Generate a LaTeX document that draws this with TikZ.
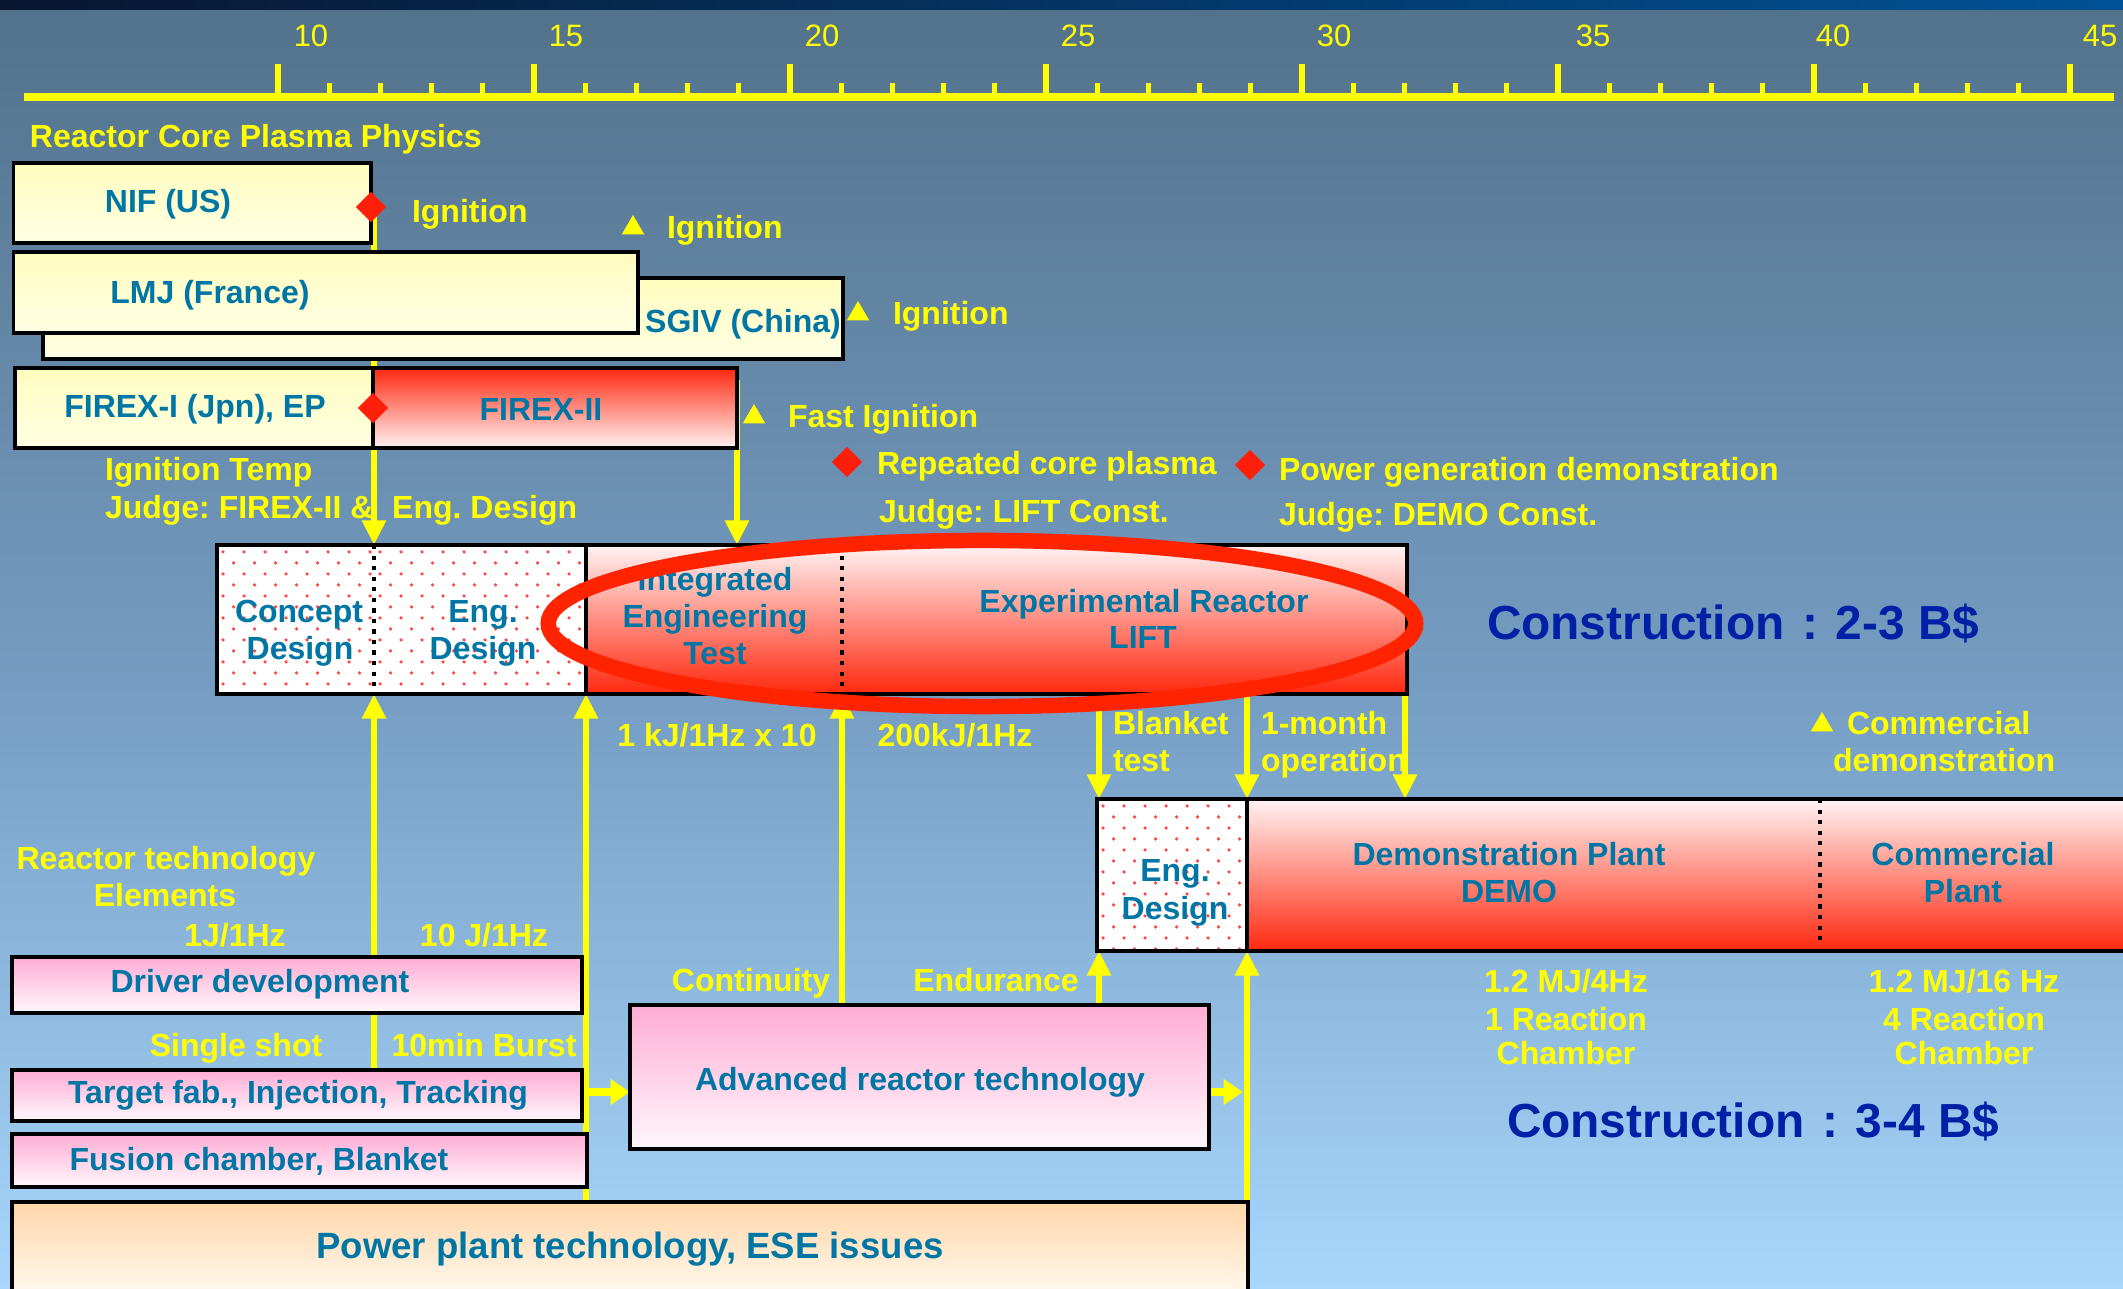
\documentclass[tikz,border=0pt]{standalone}
\usepackage{fontspec}
\setmainfont{Liberation Sans}
\usetikzlibrary{arrows.meta,fit,calc,shapes.geometric}
\pgfdeclarelayer{bg}
\pgfdeclarelayer{lines}
\pgfsetlayers{bg,lines,main}
\frenchspacing

\definecolor{bgtop}{RGB}{82,113,138}
\definecolor{bgmid}{RGB}{118,158,196}
\definecolor{bgbot}{RGB}{168,214,252}
\definecolor{yel}{RGB}{255,255,0}
\definecolor{tblue}{RGB}{0,118,165}
\definecolor{cblue}{RGB}{0,32,165}
\definecolor{redA}{RGB}{255,40,15}
\definecolor{redB}{RGB}{255,243,243}
\definecolor{yelA}{RGB}{255,252,190}
\definecolor{yelB}{RGB}{255,255,228}
\definecolor{pinkA}{RGB}{255,172,212}
\definecolor{pinkB}{RGB}{255,248,252}
\definecolor{peachA}{RGB}{255,214,168}
\definecolor{peachB}{RGB}{255,251,244}
\definecolor{dotred}{RGB}{255,70,70}
\definecolor{ellred}{RGB}{255,35,0}
\definecolor{diared}{RGB}{255,30,10}
\definecolor{stripL}{RGB}{8,22,48}
\definecolor{stripR}{RGB}{0,82,150}

\newcommand{\dotgrid}[4]{%
  \begin{scope}
    \clip (#1+2,#2+2) rectangle (#3-2,#4-2);
    \foreach \r in {0,...,14}{%
      \foreach \c in {0,...,11}{%
        \fill[dotred] ({#1+6+21*\c+10.5*mod(\r,2)},{#2+7+11*\r}) circle[radius=0.5pt];
      }%
    }%
  \end{scope}}

\begin{document}
\begin{tikzpicture}[x=0.01cm, y=-0.01cm,
  bline/.style={draw=black, line width=0.9pt},
  ybox/.style={bline, top color=yelA, bottom color=yelB, inner sep=0pt, outer sep=0pt},
  pbox/.style={bline, top color=pinkA, bottom color=pinkB, inner sep=0pt, outer sep=0pt},
  rbox/.style={top color=redB, bottom color=redA, inner sep=0pt, outer sep=0pt},
  rrbox/.style={bline, top color=redA, bottom color=redB, inner sep=0pt, outer sep=0pt},
  wbox/.style={fill=white, inner sep=0pt, outer sep=0pt},
  qbox/.style={bline, top color=peachA, bottom color=peachB, inner sep=0pt, outer sep=0pt},
  dline/.style={draw=black, line width=1.4pt, dash pattern=on 1.2pt off 1.8pt},
  txt/.style={inner sep=0pt, outer sep=0pt, text height=6.5pt, text depth=0pt, font=\bfseries\fontsize{9.1}{10.5}\selectfont},
  ytxt/.style={txt, text=yel},
  btxt/.style={txt, text=tblue},
  bigtxt/.style={inner sep=0pt, outer sep=0pt, text height=7.4pt, text depth=0pt, font=\bfseries\fontsize{10.4}{12}\selectfont, text=tblue},
  ctxt/.style={inner sep=0pt, outer sep=0pt, text height=9.7pt, text depth=0pt, font=\bfseries\fontsize{13.6}{16}\selectfont, text=cblue},
  axnum/.style={inner sep=0pt, outer sep=0pt, text height=6.3pt, text depth=0pt, font=\fontsize{8.8}{10}\selectfont, text=yel},
  diam/.style={diamond, fill=diared, minimum width=0.31cm, minimum height=0.31cm, inner sep=0pt},
  tri/.style={regular polygon, regular polygon sides=3, fill=yel, minimum size=0.26cm, inner sep=0pt},
  yline/.style={draw=yel, line width=1.8pt},
  yarr/.style={yline, -{Triangle[width=6.5pt,length=7pt]}},
  blockarr/.style={draw=yel, line width=2.4pt, -{Triangle[width=7pt,length=5.5pt]}}
]
\useasboundingbox (0,0) rectangle (2123,1289);

% background
\begin{pgfonlayer}{bg}
\shade[top color=bgtop, bottom color=bgmid] (0,0) rectangle (2123,700);
\shade[top color=bgmid, bottom color=bgbot] (0,699) rectangle (2123,1289);
\shade[left color=stripL, right color=stripR] (0,0) rectangle (2123,10);
\end{pgfonlayer}

% time axis
\draw[yel, line width=2.3pt] (24,97) -- (2114,97);
\foreach \i in {1,...,34} \draw[yel, line width=1.4pt] ({278+51.2*\i},97) -- ({278+51.2*\i},83);
\foreach \i in {0,5,...,35} \draw[yel, line width=1.5pt] ({278+51.2*\i},97) -- ({278+51.2*\i},64);
\node[axnum] (y10) at (311,35) {10};
\node[axnum] (y15) at (566,35) {15};
\node[axnum] (y20) at (822,35) {20};
\node[axnum] (y25) at (1078,35) {25};
\node[axnum] (y30) at (1334,35) {30};
\node[axnum] (y35) at (1593,35) {35};
\node[axnum] (y40) at (1833,35) {40};
\node[axnum] (y45) at (2100,35) {45};

\node[ytxt, anchor=west] (rcpp) at (30,136) {Reactor Core Plasma Physics};

% physics boxes
\node[ybox, fit={(13.5,163)(371,243)}] (nif) {};
\node[ybox, fit={(43,278)(843,359)}] (sgiv) {};
\node[ybox, fit={(13.5,252)(638,333)}] (lmj) {};
\node[ybox, fit={(15,368)(373,448)}] (firex1) {};
\node[rrbox, fit={(373,368)(737,448)}] (firex2) {};

\node[btxt] (tnif) at (168,201) {NIF (US)};
\node[btxt] (tlmj) at (210,292) {LMJ (France)};
\node[btxt] (tsgiv) at (743,321) {SGIV (China)};
\node[btxt] (tfx1) at (195,406) {FIREX-I (Jpn), EP};
\node[btxt] (tfx2) at (541,409) {FIREX-II};

\node[diam] (dnif) at (371,207) {};
\node[diam] (dfx) at (373,408) {};
\node[ytxt, anchor=west] (ign1) at (412,211) {Ignition};
\node[tri] (tr1) at (633,228) {};
\node[ytxt, anchor=west] (ign2) at (667,227) {Ignition};
\node[tri] (tr2) at (858,314) {};
\node[ytxt, anchor=west] (ign3) at (893,313) {Ignition};
\node[tri] (tr3) at (754,417) {};
\node[ytxt, anchor=west] (fign) at (788,416) {Fast Ignition};

\node[ytxt, anchor=west] (itemp) at (105,469) {Ignition Temp};
\node[ytxt, anchor=west] (judge1) at (105,507) {Judge: FIREX-II \& \hspace{2.8pt}Eng. Design};
\node[diam] (drep) at (847,462) {};
\node[ytxt, anchor=west] (rep) at (877,463) {Repeated core plasma};
\node[ytxt, anchor=west] (judge2) at (879,511) {Judge: LIFT Const.};
\node[diam] (dpow) at (1250,465) {};
\node[ytxt, anchor=west] (pow) at (1279,469) {Power generation demonstration};
\node[ytxt, anchor=west] (judge3) at (1279,514) {Judge: DEMO Const.};

% LIFT row
\node[wbox, fit={(217,545)(374,694)}] (concept) {};
\node[wbox, fit={(374,545)(586,694)}] (engd) {};
\node[rbox, fit={(586,545)(842,694)}] (integ) {};
\node[rbox, fit={(842,545)(1407,694)}] (lift) {};
\dotgrid{217}{545}{374}{694}
\dotgrid{374}{545}{586}{694}
\draw[bline] (concept.north west) rectangle (lift.south east);
\draw[bline] (engd.north east) -- (engd.south east);
\draw[dline] (concept.north east) -- (concept.south east);
\draw[dline] (integ.north east) -- (integ.south east);

\node[btxt] (tc1) at (299,611) {Concept};
\node[btxt] (tc2) at (300,648) {Design};
\node[btxt] (te1) at (483,611) {Eng.};
\node[btxt] (te2) at (483,648) {Design};
\node[btxt] (ti1) at (715,579) {Integrated};
\node[btxt] (ti2) at (715,616) {Engineering};
\node[btxt] (ti3) at (715,653) {Test};
\node[btxt] (tl1) at (1144,601) {Experimental Reactor};
\node[btxt] (tl2) at (1143,637) {LIFT};

\node[ctxt, anchor=west] (cons1) at (1487,622) {Construction\hspace{5pt}:\hspace{5pt}2-3 B\$};

% DEMO row
\node[wbox, fit={(1097,799)(1247,951)}] (demoeng) {};
\node[rbox, fit={(1247,799)(1820,951)}] (demo) {};
\node[rbox, fit={(1820,799)(2135,951)}] (comm) {};
\dotgrid{1097}{799}{1247}{951}
\draw[bline] (demoeng.north west) rectangle (comm.south east);
\draw[bline] (demoeng.north east) -- (demoeng.south east);
\draw[dline] (demo.north east) -- ($(demo.south east)+(0,-8)$);

\node[btxt] (tde1) at (1175,870) {Eng.};
\node[btxt] (tde2) at (1175,908) {Design};
\node[btxt] (tdm1) at (1509,854) {Demonstration Plant};
\node[btxt] (tdm2) at (1509,891) {DEMO};
\node[btxt] (tcp1) at (1963,854) {Commercial};
\node[btxt] (tcp2) at (1963,891) {Plant};

\node[ytxt] (kj) at (717,735) {1 kJ/1Hz x 10};
\node[ytxt] (k200) at (955,735) {200kJ/1Hz};
\node[ytxt, anchor=west] (blk1) at (1113,723) {Blanket};
\node[ytxt, anchor=west] (blk2) at (1113,760) {test};
\node[ytxt, anchor=west] (mon1) at (1261,723) {1-month};
\node[ytxt, anchor=west] (mon2) at (1261,760) {operation};
\node[tri] (tr4) at (1822,725) {};
\node[ytxt, anchor=west] (cd1) at (1847,723) {Commercial};
\node[ytxt, anchor=west] (cd2) at (1833,760) {demonstration};

\node[ytxt] (dm1) at (1566,981) {1.2 MJ/4Hz};
\node[ytxt] (dm2) at (1566,1019) {1 Reaction};
\node[ytxt] (dm3) at (1566,1053) {Chamber};
\node[ytxt] (cm1) at (1964,981) {1.2 MJ/16 Hz};
\node[ytxt] (cm2) at (1964,1019) {4 Reaction};
\node[ytxt] (cm3) at (1964,1053) {Chamber};

\node[ctxt, anchor=west] (cons2) at (1507,1120) {Construction\hspace{5pt}:\hspace{5pt}3-4 B\$};

% technology elements
\node[ytxt] (rte1) at (166,858) {Reactor technology};
\node[ytxt] (rte2) at (165,895) {Elements};
\node[ytxt] (j1) at (235,935) {1J/1Hz};
\node[ytxt] (j10) at (484,935) {10 J/1Hz};
\node[ytxt] (ss) at (236,1045) {Single shot};
\node[ytxt] (burst) at (484,1045) {10min Burst};

\node[pbox, fit={(12,957)(582,1013)}] (driver) {};
\node[pbox, fit={(12,1070)(582,1121)}] (target) {};
\node[pbox, fit={(12,1134)(587,1187)}] (fusion) {};
\node[pbox, fit={(630,1005)(1209,1149)}] (adv) {};
\node[qbox, fit={(12,1202)(1248,1300)}] (power) {};

\node[btxt] (tdrv) at (260,981) {Driver development};
\node[btxt] (ttgt) at (298,1092) {Target fab., Injection, Tracking};
\node[btxt] (tfus) at (259,1159) {Fusion chamber, Blanket};
\node[btxt] (tadv) at (920,1079) {Advanced reactor technology};
\node[bigtxt] (tpow) at (630,1245) {Power plant technology, ESE issues};

\node[ytxt] (cont) at (751,980) {Continuity};
\node[ytxt] (endu) at (996,980) {Endurance};

% connectors (behind boxes)
\coordinate (ain) at (adv.west |- 0,1092);
\coordinate (e7) at ($(demoeng.south west)+(2,0)$);
\coordinate (pbot) at (1247,1280);
\begin{pgfonlayer}{lines}
\draw[yarr] (dnif.center -| concept.north east) -- (concept.north east);
\draw[yarr] ($(firex2.north east)+(0,12)$) -- (firex2.east |- lift.north);
\draw[yarr] (concept.south east |- target.north) -- (concept.south east);
\draw[yarr] (engd.south east |- power.north) -- (engd.south east);
\draw[blockarr] ($(ain -| engd.east)+(3,0)$) -- (ain);
\draw[yarr] (adv.north -| integ.south east) -- (integ.south east);
\draw[yarr] (adv.north -| e7) -- (e7);
\draw[yarr] (pbot) -- (demoeng.south east);
\draw[blockarr] (adv.east |- ain) -- ($(ain -| demoeng.east)+(-4,0)$);
\draw[yarr] (e7 |- lift.south) -- (e7 |- demoeng.north);
\draw[yarr] (demoeng.north east |- lift.south) -- (demoeng.north east);
\draw[yarr] ($(lift.south east)+(-2,0)$) -- ($(lift.south east |- demo.north)+(-2,0)$);
\end{pgfonlayer}

% red ellipse
\draw[ellred, line width=4.4pt] (982,623.5) ellipse [x radius=4.335cm, y radius=0.83cm];
\end{tikzpicture}
\end{document}
